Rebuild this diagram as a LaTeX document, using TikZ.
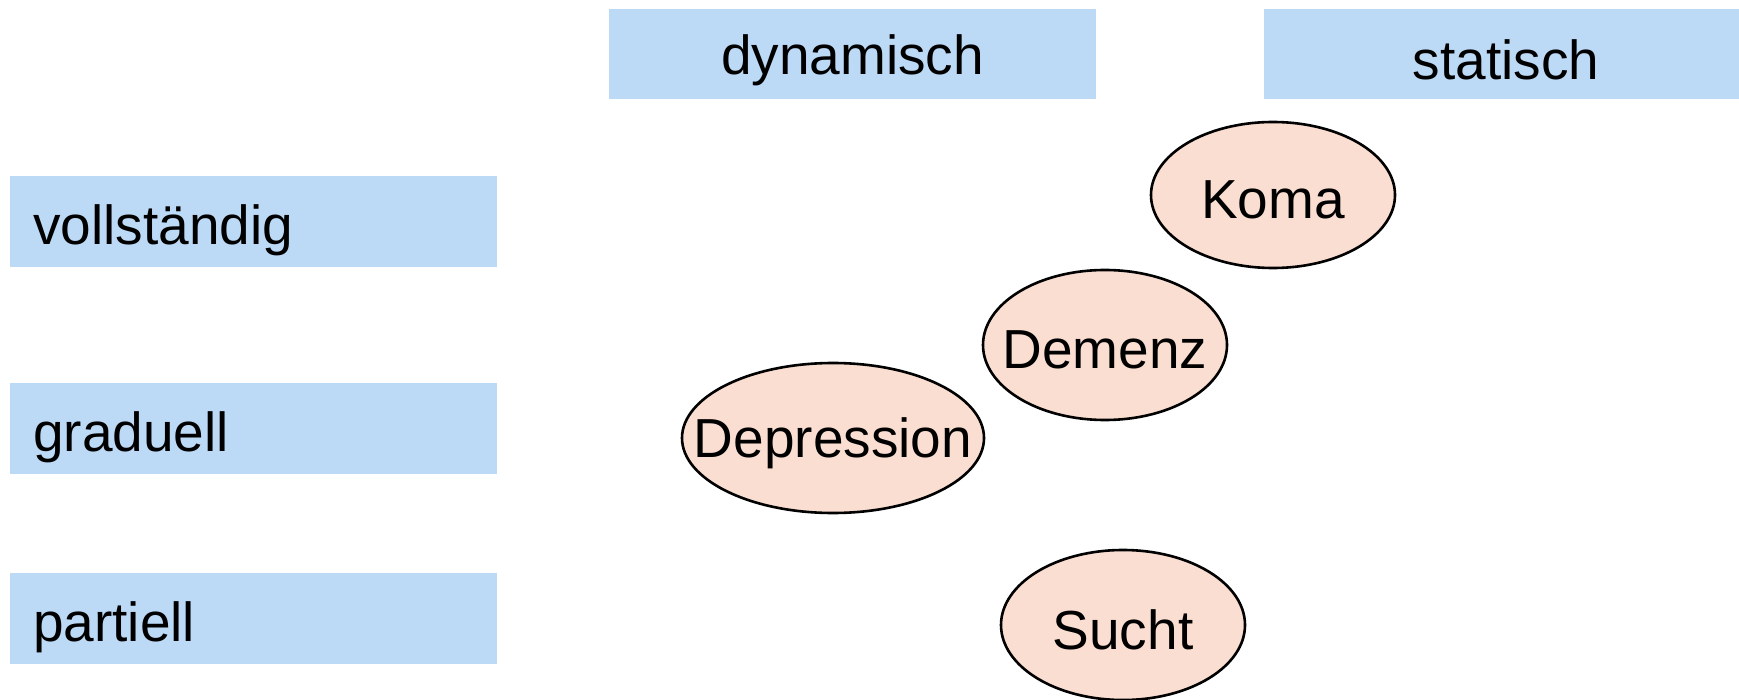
\documentclass[tikz,border=0pt]{standalone}
\usepackage{fontspec}
\setmainfont{Liberation Sans}
\usetikzlibrary{shapes.geometric}
\definecolor{headblue}{HTML}{BCD9F6}
\definecolor{peach}{HTML}{FADED1}
\tikzset{
  headbox/.style={fill=headblue, draw=none, inner sep=0pt},
  txt/.style={inner sep=0pt, font=\fontsize{55}{60}\selectfont},
  oval/.style={ellipse, fill=peach, draw=black, line width=2.6pt, inner sep=0pt},
}
\begin{document}
\begin{tikzpicture}[x=1pt,y=-1pt]
\useasboundingbox (0,0) rectangle (1739,700);
% column headers
\node[headbox, minimum width=487pt, minimum height=90pt] (dyn) at (852.5,54) {};
\node[txt] (dynt) at (852.5,60) {dynamisch};
\node[headbox, minimum width=475pt, minimum height=90pt] (stat) at (1501.5,54) {};
\node[txt] (statt) at (1506,60) {statisch};
% row headers
\node[headbox, minimum width=487pt, minimum height=91pt] (voll) at (253.5,221.5) {};
\node[txt, anchor=west] (vollt) at (33,230) {vollständig};
\node[headbox, minimum width=487pt, minimum height=91pt] (grad) at (253.5,428.5) {};
\node[txt, anchor=west] (gradt) at (33,437) {graduell};
\node[headbox, minimum width=487pt, minimum height=91pt] (part) at (253.5,618.5) {};
\node[txt, anchor=west] (partt) at (33,627) {partiell};
% ellipses
\node[oval, minimum width=244pt, minimum height=146pt] (koma) at (1273,195) {};
\node[txt] (komat) at (1273,200) {Koma};
\node[oval, minimum width=244pt, minimum height=150pt] (demenz) at (1105,345) {};
\node[txt] (demenzt) at (1105,350) {Demenz};
\node[oval, minimum width=302pt, minimum height=150pt] (depr) at (833,438) {};
\node[txt] (deprt) at (833,443) {Depression};
\node[oval, minimum width=244pt, minimum height=150pt] (sucht) at (1123,625) {};
\node[txt] (suchtt) at (1123,630) {Sucht};
\end{tikzpicture}
\end{document}
